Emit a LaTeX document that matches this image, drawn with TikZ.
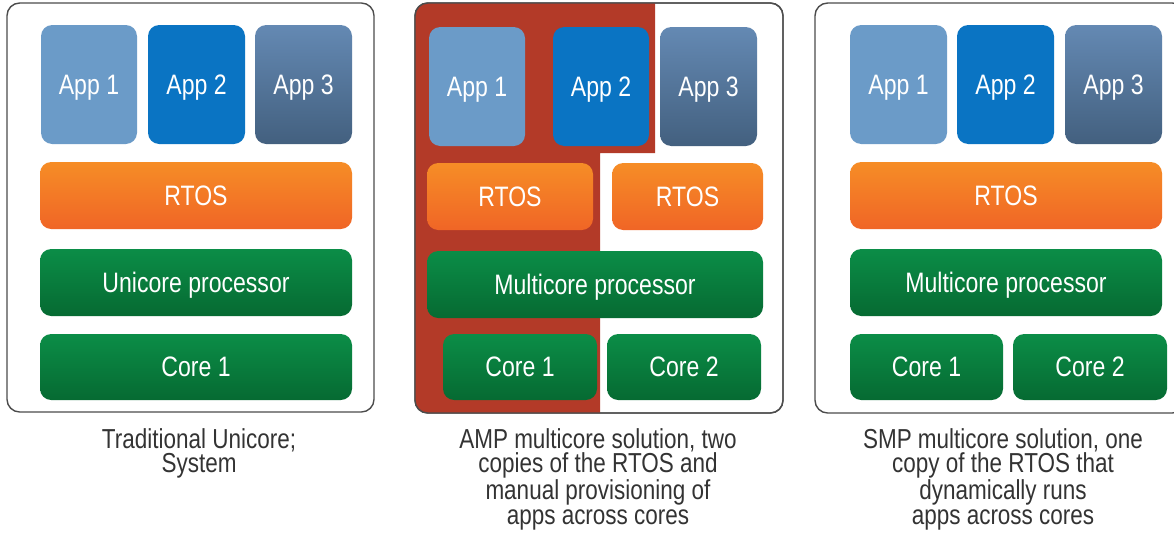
\documentclass[tikz,border=0pt]{standalone}
\usepackage{fontspec}
\setmainfont{Liberation Sans}[FakeStretch=0.82]
\usetikzlibrary{fit}
\definecolor{appone}{HTML}{6B9BC8}
\definecolor{apptwo}{HTML}{0A74C3}
\definecolor{appthreetop}{HTML}{6489B3}
\definecolor{appthreebot}{HTML}{43607F}
\definecolor{rtostop}{HTML}{F68D26}
\definecolor{rtosbot}{HTML}{F06526}
\definecolor{cputop}{HTML}{0B8D47}
\definecolor{cpubot}{HTML}{066A32}
\definecolor{ampred}{HTML}{B33A28}
\tikzset{
  panel/.style={draw=black!70, line width=1pt, rounded corners=9, fill=white, inner sep=0pt, outer sep=0pt},
  boxtext/.style={inner sep=0pt, text=white, text height=14pt, text depth=0pt, font=\fontsize{20}{22}\selectfont},
  blk/.style={rounded corners=8, inner sep=0pt, outer sep=0pt},
  appa/.style={blk, fill=appone},
  appb/.style={blk, fill=apptwo},
  appc/.style={blk, top color=appthreetop, bottom color=appthreebot},
  rtosbox/.style={blk, top color=rtostop, bottom color=rtosbot},
  cpubox/.style={blk, top color=cputop, bottom color=cpubot},
  caption/.style={align=center, anchor=north, inner sep=0pt, text=black!80, font=\fontsize{19.5}{17.4}\selectfont}
}
\begin{document}
\begin{tikzpicture}[x=0.025cm, y=-0.025cm]
			%%%%% START %%%%%
			\useasboundingbox (0,0) rectangle (1174,533);
			\clip (0,0) rectangle (1174,533);
			
			\node[panel, fit={(7,3) (374,412)}] (uni) {};
			\node[panel, fit={(415,3) (783,413)}] (amp) {};
			\node[panel, fit={(815,3) (1185,413)}] (smp) {};
			
			\begin{scope}
				\clip[rounded corners=9] (amp.south west) rectangle (amp.north east);
				\fill[ampred] (410,0) -- (655,0) -- (655,153) -- (600,153) -- (600,420) -- (410,420) -- cycle;
			\end{scope}
			\draw[black!70, line width=1pt, rounded corners=9] (amp.south west) rectangle (amp.north east);
			
			\node[appa, fit={(41,25) (137,144)}, label={[boxtext]center:App 1}] (uniapp1) {};
			\node[appb, fit={(148,25) (245,144)}, label={[boxtext]center:App 2}] (uniapp2) {};
			\node[appc, fit={(255,25) (352,144)}, label={[boxtext]center:App 3}] (uniapp3) {};
			\node[rtosbox, fit={(40,162) (352,229)}, label={[boxtext]center:RTOS}] (unirtos) {};
			\node[cpubox, fit={(40,249) (352,316)}, label={[boxtext]center:Unicore processor}] (unicpu) {};
			\node[cpubox, fit={(40,334) (352,400)}, label={[boxtext]center:Core 1}] (unicore1) {};
			
			\node[appa, fit={(429,27) (525,146)}, label={[boxtext]center:App 1}] (ampapp1) {};
			\node[appb, fit={(553,27) (649,146)}, label={[boxtext]center:App 2}] (ampapp2) {};
			\node[appc, fit={(660,27) (757,146)}, label={[boxtext]center:App 3}] (ampapp3) {};
			\node[rtosbox, fit={(427,163) (593,230)}, label={[boxtext]center:RTOS}] (amprtos1) {};
			\node[rtosbox, fit={(612,163) (763,230)}, label={[boxtext]center:RTOS}] (amprtos2) {};
			\node[cpubox, fit={(427,251) (763,318)}, label={[boxtext]center:Multicore processor}] (ampcpu) {};
			\node[cpubox, fit={(443,334) (597,400)}, label={[boxtext]center:Core 1}] (ampcore1) {};
			\node[cpubox, fit={(607,334) (761,400)}, label={[boxtext]center:Core 2}] (ampcore2) {};
			
			\node[appa, fit={(850,25) (947,144)}, label={[boxtext]center:App 1}] (smpapp1) {};
			\node[appb, fit={(957,25) (1054,144)}, label={[boxtext]center:App 2}] (smpapp2) {};
			\node[appc, fit={(1065,25) (1162,144)}, label={[boxtext]center:App 3}] (smpapp3) {};
			\node[rtosbox, fit={(850,162) (1162,229)}, label={[boxtext]center:RTOS}] (smprtos) {};
			\node[cpubox, fit={(850,249) (1162,316)}, label={[boxtext]center:Multicore processor}] (smpcpu) {};
			\node[cpubox, fit={(850,334) (1003,400)}, label={[boxtext]center:Core 1}] (smpcore1) {};
			\node[cpubox, fit={(1013,334) (1167,400)}, label={[boxtext]center:Core 2}] (smpcore2) {};
			
			\node[caption] (unitext) at (199,428) {Traditional Unicore;\\System};
			\node[caption] (amptext) at (598,428) {AMP multicore solution, two\\copies of the RTOS and\\manual provisioning of\\apps across cores};
			\node[caption] (smptext) at (1003,428) {SMP multicore solution, one\\copy of the RTOS that\\dynamically runs\\apps across cores};
			
			%%%%% END %%%%%
\end{tikzpicture}
\end{document}
